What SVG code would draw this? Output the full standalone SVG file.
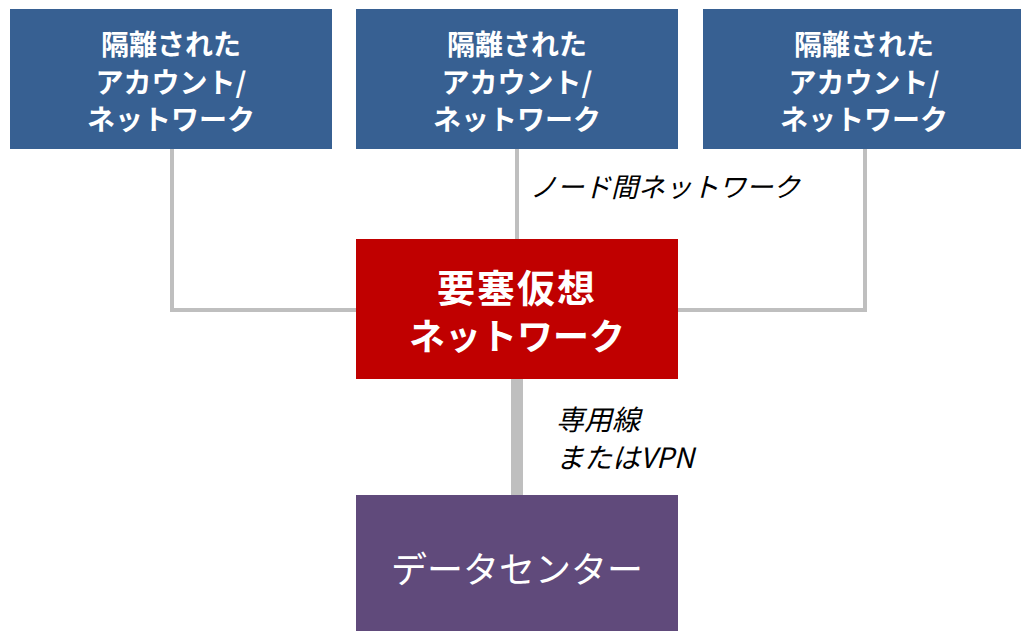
<svg xmlns="http://www.w3.org/2000/svg" width="1021" height="631" viewBox="0 0 1021 631">
<style>
.blue{fill:#376092}
.t{font-family:"Noto Sans CJK JP","Noto Sans",sans-serif;fill:#fff;text-anchor:middle}
.tb{font-size:28px;font-weight:bold}
.lbl{font-family:"Noto Sans CJK JP","Noto Sans",sans-serif;font-style:italic;fill:#000}
.c{stroke:#BFBFBF;fill:none}
</style>
<rect width="1021" height="631" fill="#fff"/>
<g id="connectors">
<polyline class="c" stroke-width="4" points="172,149 172,310 356,310"/>
<line class="c" stroke-width="4" x1="517" y1="149" x2="517" y2="239"/>
<polyline class="c" stroke-width="4" points="865,149 865,310 678,310"/>
<line class="c" stroke-width="12" x1="517" y1="379" x2="517" y2="495"/>
<text class="lbl" font-size="27" x="530" y="197">ノード間ネットワーク</text>
<text class="lbl" font-size="28" x="556" y="430">専用線</text>
<text class="lbl" font-size="28" x="556" y="468">またはVPN</text>
</g>
<g id="node-account1">
<rect class="blue" x="10" y="9" width="322" height="140"/>
<text class="t tb" x="171" y="55">隔離された</text>
<text class="t tb" x="171" y="93">アカウント/</text>
<text class="t tb" x="171" y="130">ネットワーク</text>
</g>
<g id="node-account2">
<rect class="blue" x="356" y="9" width="322" height="140"/>
<text class="t tb" x="517" y="55">隔離された</text>
<text class="t tb" x="517" y="93">アカウント/</text>
<text class="t tb" x="517" y="130">ネットワーク</text>
</g>
<g id="node-account3">
<rect class="blue" x="703" y="9" width="318" height="140"/>
<text class="t tb" x="864" y="55">隔離された</text>
<text class="t tb" x="864" y="93">アカウント/</text>
<text class="t tb" x="864" y="130">ネットワーク</text>
</g>
<g id="node-core">
<rect fill="#C00000" x="356" y="239" width="322" height="140"/>
<text class="t" font-size="38" font-weight="bold" x="517" y="302" letter-spacing="2">要塞仮想</text>
<text class="t" font-size="36" font-weight="bold" x="517" y="350">ネットワーク</text>
</g>
<g id="node-datacenter">
<rect fill="#604A7B" x="356" y="495" width="322" height="136"/>
<text class="t" font-size="36" x="517" y="583">データセンター</text>
</g>
</svg>
